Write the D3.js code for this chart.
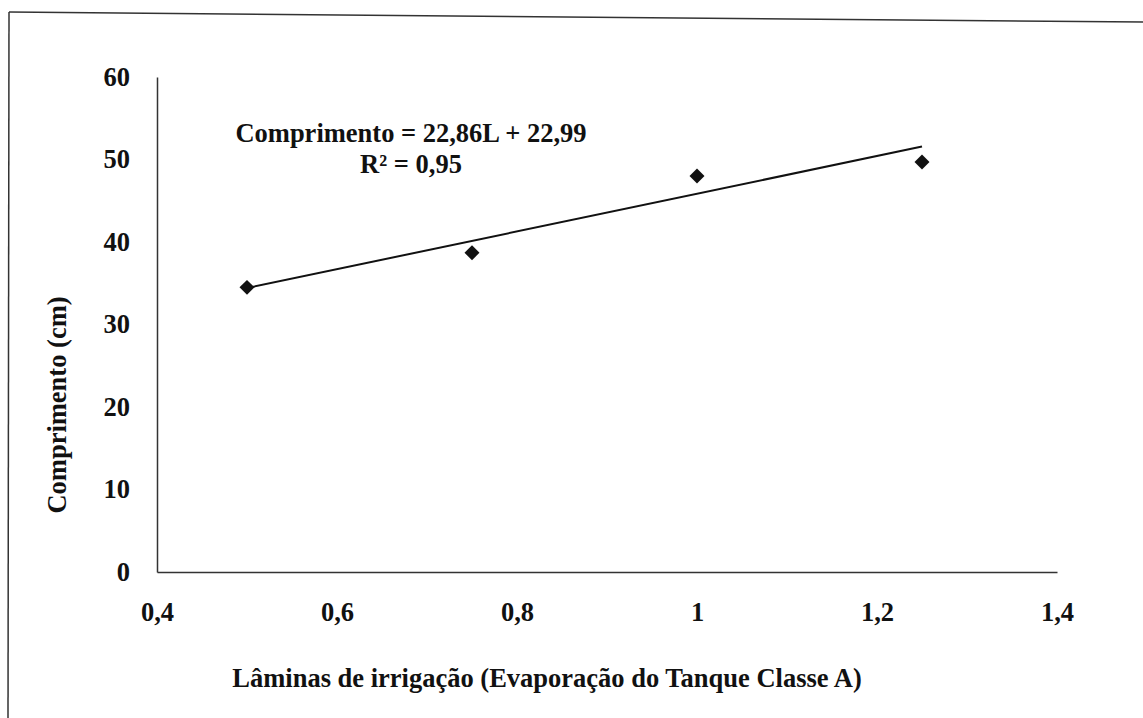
<!DOCTYPE html>
<html>
<head>
<meta charset="utf-8">
<script src="https://cdn.jsdelivr.net/npm/d3@7"></script>
<style>
  body { margin: 0; background: #fff; }
</style>
</head>
<body>
<div id="chart"></div>
<script>
// data
var laminas = [0.5, 0.75, 1.0, 1.25];
var comprimento = [34.5, 38.7, 48.0, 49.7];
var xTicks = [0.4, 0.6, 0.8, 1.0, 1.2, 1.4];
var yTicks = [0, 10, 20, 30, 40, 50, 60];
var slope = 22.86, intercept = 22.99;
var eqLines = ["Comprimento = 22,86L + 22,99", "R\u00b2 = 0,95"];

var W = 1143, H = 718;
var margin = {top: 77, left: 157, right: 86, bottom: 146};
var serif = "'Liberation Serif', 'Times New Roman', 'DejaVu Serif', serif";

var svg = d3.select("#chart").append("svg")
  .attr("width", W).attr("height", H);

// scanned frame (only top + left edge visible)
svg.append("line").attr("x1", 9).attr("y1", 12).attr("x2", W).attr("y2", 22)
  .attr("stroke", "#333").attr("stroke-width", 1.5);
svg.append("line").attr("x1", 9).attr("y1", 12).attr("x2", 8).attr("y2", H)
  .attr("stroke", "#333").attr("stroke-width", 1.5);

var x = d3.scaleLinear().domain([0.4, 1.4]).range([margin.left, W - margin.right]);
var y = d3.scaleLinear().domain([0, 60]).range([H - margin.bottom, margin.top]);

function styleText(sel) {
  sel.style("font-family", serif)
    .style("font-weight", "bold")
    .style("font-size", "26.5px")
    .attr("fill", "#111");
}

// axes
var xAxis = svg.append("g")
  .attr("transform", "translate(0," + y(0) + ")")
  .call(d3.axisBottom(x).tickValues(xTicks).tickSize(0).tickPadding(30)
    .tickFormat(function(d) { return d === 1 ? "1" : d3.format(".1f")(d).replace(".", ","); }));
xAxis.select(".domain").attr("stroke", "#333").attr("stroke-width", 1.5);
xAxis.selectAll("text").call(styleText);

var yAxis = svg.append("g")
  .attr("transform", "translate(" + x(0.4) + ",0)")
  .call(d3.axisLeft(y).tickValues(yTicks).tickSize(0).tickPadding(27));
yAxis.select(".domain").attr("stroke", "#333").attr("stroke-width", 1.5);
yAxis.selectAll("text").call(styleText);

// trend line
svg.append("line")
  .attr("x1", x(laminas[0])).attr("y1", y(slope * laminas[0] + intercept))
  .attr("x2", x(laminas[3])).attr("y2", y(slope * laminas[3] + intercept))
  .attr("stroke", "#111").attr("stroke-width", 2);

// points
var pts = laminas.map(function(d, i) { return {x: d, y: comprimento[i]}; });
svg.selectAll(".pt").data(pts).enter()
  .append("path")
  .attr("class", "pt")
  .attr("d", d3.symbol(d3.symbolSquare, 112))
  .attr("transform", function(d) { return "translate(" + x(d.x) + "," + y(d.y) + ") rotate(45)"; })
  .attr("fill", "#111");

// equation
svg.selectAll(".eq").data(eqLines).enter()
  .append("text")
  .attr("class", "eq")
  .attr("x", 411)
  .attr("y", function(d, i) { return 142 + i * 31; })
  .attr("text-anchor", "middle")
  .call(styleText)
  .text(function(d) { return d; });

// axis titles
svg.append("text")
  .attr("x", 547).attr("y", 687)
  .attr("text-anchor", "middle")
  .call(styleText)
  .text("L\u00e2minas de irriga\u00e7\u00e3o (Evapora\u00e7\u00e3o do Tanque Classe A)");

svg.append("text")
  .attr("transform", "translate(66," + 405 + ") rotate(-90)")
  .attr("text-anchor", "middle")
  .call(styleText)
  .text("Comprimento (cm)");
</script>
</body>
</html>
